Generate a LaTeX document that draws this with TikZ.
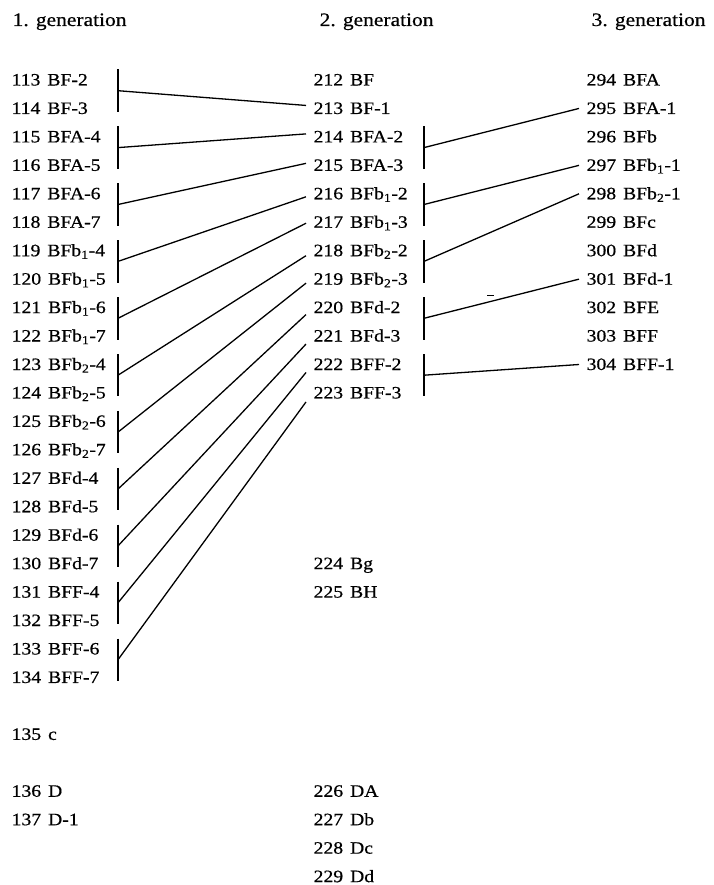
\documentclass[tikz,border=0pt]{standalone}
\usepackage{fontspec}
\setmainfont[FakeStretch=1.13,FakeBold=0.6]{Liberation Serif}
\tikzset{
    entry/.style={anchor=base west, inner sep=0pt, font=\fontsize{17.4}{20}\selectfont},
    heading/.style={anchor=base west, inner sep=0pt, font=\fontsize{19}{22}\selectfont},
    link/.style={line width=1.3pt}
}
\begin{document}
\begin{tikzpicture}[x=1pt, y=-1pt, link]
    \useasboundingbox (0,0) rectangle (713,885);
    \node[heading] (head1) at (12,26) {1. generation};
    \node[heading] (head2) at (319,26) {2. generation};
    \node[heading] (head3) at (591,26) {3. generation};
    \foreach \rr/\nr/\lab in {0/113/BF-2, 1/114/BF-3, 2/115/BFA-4, 3/116/BFA-5,
        4/117/BFA-6, 5/118/BFA-7, 6/119/BFb\textsubscript{1}-4, 7/120/BFb\textsubscript{1}-5,
        8/121/BFb\textsubscript{1}-6, 9/122/BFb\textsubscript{1}-7, 10/123/BFb\textsubscript{2}-4,
        11/124/BFb\textsubscript{2}-5, 12/125/BFb\textsubscript{2}-6, 13/126/BFb\textsubscript{2}-7,
        14/127/BFd-4, 15/128/BFd-5, 16/129/BFd-6, 17/130/BFd-7, 18/131/BFF-4, 19/132/BFF-5,
        20/133/BFF-6, 21/134/BFF-7, 23/135/c, 25/136/D, 26/137/D-1}
        \node[entry] (n\nr) at (11,{85.5+28.45*\rr}) {\nr\hspace{0.4em}\lab};
    \foreach \rr/\nr/\lab in {0/212/BF, 1/213/BF-1, 2/214/BFA-2, 3/215/BFA-3,
        4/216/BFb\textsubscript{1}-2, 5/217/BFb\textsubscript{1}-3, 6/218/BFb\textsubscript{2}-2,
        7/219/BFb\textsubscript{2}-3, 8/220/BFd-2, 9/221/BFd-3, 10/222/BFF-2, 11/223/BFF-3,
        17/224/Bg, 18/225/BH, 25/226/DA, 26/227/Db, 27/228/Dc, 28/229/Dd}
        \node[entry] (n\nr) at (313,{85.5+28.45*\rr}) {\nr\hspace{0.4em}\lab};
    \foreach \rr/\nr/\lab in {0/294/BFA, 1/295/BFA-1, 2/296/BFb, 3/297/BFb\textsubscript{1}-1,
        4/298/BFb\textsubscript{2}-1, 5/299/BFc, 6/300/BFd, 7/301/BFd-1, 8/302/BFE,
        9/303/BFF, 10/304/BFF-1}
        \node[entry] (n\nr) at (586,{85.5+28.45*\rr}) {\nr\hspace{0.4em}\lab};

    \foreach \rr/\trg/\dy in {0/213/8.5pt, 2/214/8.5pt, 4/215/7.5pt, 6/216/2.5pt,
        8/217/4.5pt, 10/218/0.5pt, 12/219/1.5pt, 14/220/-1.5pt, 16/221/-2.5pt,
        18/222/-2.5pt, 20/223/-3.5pt} {
        \draw (118,{85.5+28.45*\rr-16}) -- (118,{85.5+28.45*\rr+26.45});
        \coordinate (j\trg) at (118,{85.5+28.45*\rr+5.2});
        \draw (j\trg) -- ([xshift=-7pt,yshift=\dy]n\trg.base west);
    }
    \foreach \rr/\trg in {2/295, 4/297, 6/298, 8/301, 10/304} {
        \draw (424,{85.5+28.45*\rr-16}) -- (424,{85.5+28.45*\rr+26.45});
        \coordinate (m\trg) at (424,{85.5+28.45*\rr+5.2});
        \draw (m\trg) -- ([xshift=-7pt,yshift=5.5pt]n\trg.base west);
    }
    \draw[line width=1pt] (487,295) -- (494,295);
\end{tikzpicture}
\end{document}
